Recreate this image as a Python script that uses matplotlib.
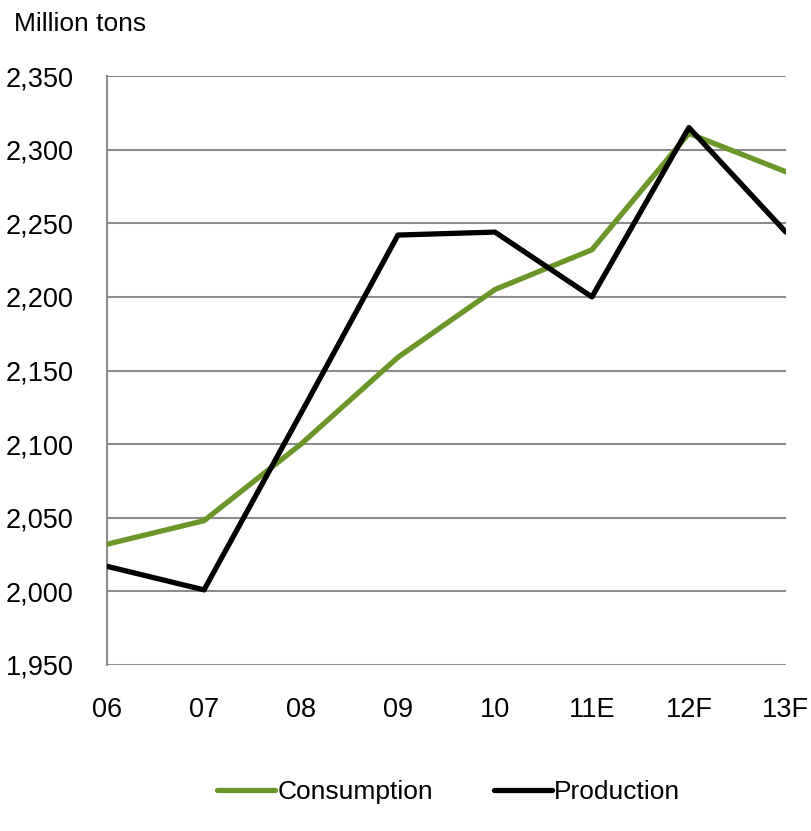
import matplotlib
matplotlib.use("Agg")
import matplotlib.pyplot as plt

plt.rcParams['font.family'] = ['Liberation Sans', 'DejaVu Sans']

categories = ["06", "07", "08", "09", "10", "11E", "12F", "13F"]
consumption = [2032, 2048, 2100, 2159, 2205, 2232, 2311, 2285]
production = [2017, 2001, 2121, 2242, 2244, 2200, 2315, 2244]
yticks = [1950, 2000, 2050, 2100, 2150, 2200, 2250, 2300, 2350]

fig = plt.figure(figsize=(8.11, 8.31), dpi=100)
ax = fig.add_axes([0.132, 0.1998, 0.837, 0.7087])

x = list(range(len(categories)))
ax.plot(x, consumption, color="#6B9628", lw=3.8, label="Consumption", solid_capstyle="round", zorder=3)
ax.plot(x, production, color="#000000", lw=3.8, label="Production", solid_capstyle="round", zorder=4)

ax.set_xlim(0, len(categories) - 1)
ax.set_ylim(1950, 2350)
ax.set_yticks(yticks)
ax.set_yticklabels([f"{v:,}" for v in yticks])
ax.set_xticks(x)
ax.set_xticklabels(categories)
ax.grid(axis="y", color="#8c8c8c", lw=1.5)
ax.set_axisbelow(True)
for s in ["top", "right", "bottom"]:
    ax.spines[s].set_visible(False)
ax.spines["left"].set_color("#8c8c8c")
ax.spines["left"].set_linewidth(1.5)
ax.tick_params(axis="both", length=0, labelsize=19.5, colors="black")
ax.tick_params(axis="y", pad=24)
ax.tick_params(axis="x", pad=23)

fig.text(0.017, 0.971, "Million tons", fontsize=19, ha="left", va="center")

fig.legend(loc="center", bbox_to_anchor=(0.553, 0.047), ncol=2, frameon=False,
           fontsize=19, handlelength=2.2, handletextpad=0.1, columnspacing=2.3)

fig.savefig("out.png", dpi=100)
